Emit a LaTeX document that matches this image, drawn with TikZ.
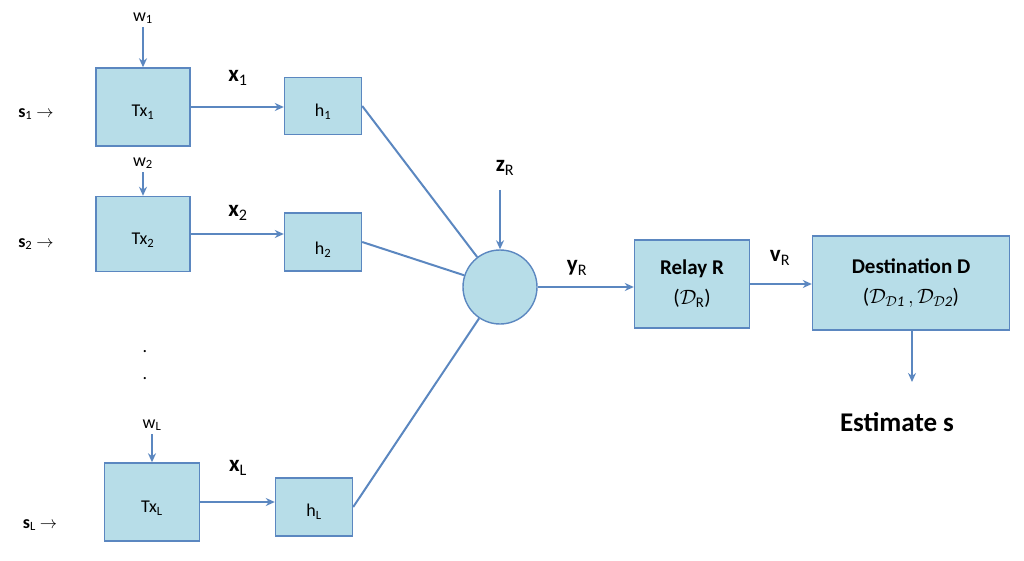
\documentclass[tikz,border=0pt]{standalone}
\usepackage{fontspec}
\setmainfont{Carlito}
\usetikzlibrary{arrows.meta}
\definecolor{bfill}{RGB}{183,221,232}
\definecolor{bline}{RGB}{91,135,192}
\newcommand{\sbs}[1]{\textsubscript{#1}}
\begin{document}
\begin{tikzpicture}[x=1pt,y=-1pt,
 box/.style={draw=bline,fill=bfill,line width=1.4pt,inner sep=0pt},
 ar/.style={draw=bline,line width=2pt,-{Stealth[length=9pt,width=8pt]}},
 ln/.style={draw=bline,line width=2pt},
 lab/.style={font=\fontsize{18}{20}\selectfont},
 big/.style={font=\fontsize{23}{25}\selectfont}]
\useasboundingbox (0,0) rectangle (1024,561);
\node[box,minimum width=94pt,minimum height=78pt] (tx1) at (143,107) {};
\node[lab] at (143,112) {Tx\sbs{1}};
\node[box,minimum width=77pt,minimum height=57pt] (h1) at (323,106) {};
\node[lab] at (323,112) {h\sbs{1}};
\node[box,minimum width=94pt,minimum height=75pt] (tx2) at (143,234) {};
\node[lab] at (143,240) {Tx\sbs{2}};
\node[box,minimum width=77pt,minimum height=58pt] (h2) at (323,242) {};
\node[lab] at (323,250) {h\sbs{2}};
\node[box,minimum width=95pt,minimum height=78pt] (txL) at (152,502) {};
\node[lab] at (152,508) {Tx\sbs{L}};
\node[box,minimum width=77pt,minimum height=58pt] (hL) at (314,507) {};
\node[lab] at (314,512) {h\sbs{L}};
\node[box,circle,minimum size=74pt] (c) at (500,287) {};
\node[box,minimum width=115pt,minimum height=88pt,align=center,font=\fontsize{21}{28}\selectfont] (relay) at (692,284) {\textbf{Relay R}\\[2pt]($\mathcal{D}_{\mathrm{R}}$)};
\node[box,minimum width=197pt,minimum height=94pt,align=center,font=\fontsize{21}{28}\selectfont] (dest) at (911,283) {\textbf{Destination D}\\[2pt]($\mathcal{D}_{\mathcal{D}\mathit{1}}\,,\mathcal{D}_{\mathcal{D}\mathit{2}}$)};
% labels
\node[lab] (w1) at (143,18) {w\sbs{1}};
\node[lab] (w2) at (143,163) {w\sbs{2}};
\node[lab] (wL) at (152,425) {w\sbs{L}};
\node[lab] at (36,114) {\textbf{s}\sbs{1} $\mathbf{\rightarrow}$};
\node[lab] at (36,244) {\textbf{s}\sbs{2} $\mathbf{\rightarrow}$};
\node[lab] at (40,525) {\textbf{s}\sbs{L} $\mathbf{\rightarrow}$};
\node[big] at (238,78) {\textbf{x}\sbs{1}};
\node[big] at (238,213) {\textbf{x}\sbs{2}};
\node[big] at (238,468) {\textbf{x}\sbs{L}};
\node[big] (z) at (505,168) {\textbf{z}\sbs{R}};
\node[big] at (577,268) {\textbf{y}\sbs{R}};
\node[big] at (780,258) {\textbf{v}\sbs{R}};
\node[font=\fontsize{18}{18}\selectfont] at (145,352) {.};
\node[font=\fontsize{18}{18}\selectfont] at (145,379) {.};
\node[font=\bfseries\fontsize{27}{30}\selectfont] (est) at (897,422) {Estimate s};
\coordinate (dend) at (912,382);
\coordinate (zend) at (500,190);
% connectors
\draw[ar] (w1.south) -- (tx1.north);
\draw[ar] (w2.south) -- (tx2.north);
\draw[ar] (wL.south) -- (txL.north);
\draw[ar] (tx1.east) -- (h1.west |- tx1.east);
\draw[ar] (tx2.east) -- (h2.west |- tx2.east);
\draw[ar] (txL.east) -- (hL.west |- txL.east);
\draw[ln] (h1.east) -- (c);
\draw[ln] (h2.east) -- (c);
\draw[ln] (hL.east) -- (c);
\draw[ar] (zend) -- (c.north);
\draw[ar] (c.east) -- (relay.west |- c.east);
\draw[ar] (relay.east) -- (dest.west |- relay.east);
\draw[ar] (dest.south -| dend) -- (dend);
\end{tikzpicture}
\end{document}
